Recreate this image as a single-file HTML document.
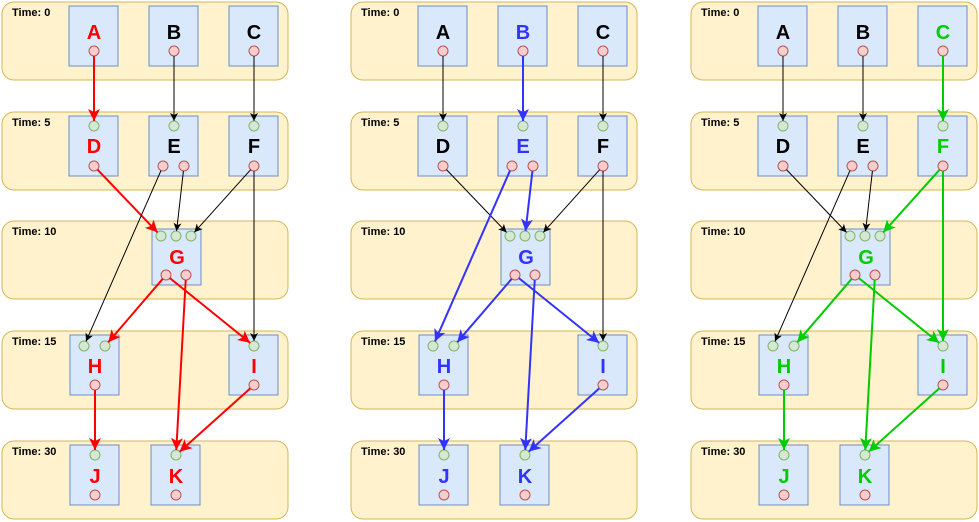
<!DOCTYPE html>
<html><head><meta charset="utf-8"><style>
html,body{margin:0;padding:0;background:#fff;width:979px;height:522px;overflow:hidden}
text{font-family:"Liberation Sans",Arial,sans-serif;font-weight:bold}
</style></head><body>
<svg id="s" width="979" height="522" viewBox="0 0 979 522" xmlns="http://www.w3.org/2000/svg">
<defs>
<marker id="m-black" markerWidth="10" markerHeight="10" refX="9" refY="5" orient="auto" markerUnits="userSpaceOnUse"><path d="M1,1 L9,5 L1,9 L3,5 z" fill="#000"/></marker>
<marker id="m-red" markerWidth="14" markerHeight="14" refX="13" refY="7" orient="auto" markerUnits="userSpaceOnUse"><path d="M1,1 L13,7 L1,13 L4,7 z" fill="#ff0000"/></marker>
<marker id="m-blue" markerWidth="14" markerHeight="14" refX="13" refY="7" orient="auto" markerUnits="userSpaceOnUse"><path d="M1,1 L13,7 L1,13 L4,7 z" fill="#3333ff"/></marker>
<marker id="m-green" markerWidth="14" markerHeight="14" refX="13" refY="7" orient="auto" markerUnits="userSpaceOnUse"><path d="M1,1 L13,7 L1,13 L4,7 z" fill="#00cc00"/></marker>
</defs>
</svg>
<script>
const NS="http://www.w3.org/2000/svg";
const svg=document.getElementById('s');
const bands=[["Time: 0",2],["Time: 5",112],["Time: 10",221],["Time: 15",331],["Time: 30",441]];
// nodes: name, x, y, w, h, inputs [x,y], outputs [x,y], label y
const nodes={
A:{x:69,y:6,h:60,ins:[],outs:[[94,51]],ly:32},
B:{x:149,y:6,h:60,ins:[],outs:[[174,51]],ly:32},
C:{x:229,y:6,h:60,ins:[],outs:[[254,51]],ly:32},
D:{x:69,y:116,h:60,ins:[[94,126]],outs:[[94,166]],ly:146},
E:{x:149,y:116,h:60,ins:[[174,126]],outs:[[163,166],[184,166]],ly:146},
F:{x:229,y:116,h:60,ins:[[254,126]],outs:[[254,166]],ly:146},
G:{x:152,y:229,h:56,ins:[[161,236],[176,236],[191,236]],outs:[[166,275],[186,275]],ly:257},
H:{x:70,y:335,h:60,ins:[[84,346],[105,346]],outs:[[95,385]],ly:366},
I:{x:229,y:335,h:60,ins:[[254,346]],outs:[[254,385]],ly:366},
J:{x:70,y:445,h:60,ins:[[95,455]],outs:[[95,495]],ly:476},
K:{x:151,y:445,h:60,ins:[[176,455]],outs:[[176,495]],ly:476}
};
// edges: from, outIdx, to, inIdx
const edges=[["A",0,"D",0],["B",0,"E",0],["C",0,"F",0],["D",0,"G",0],["E",0,"H",0],["E",1,"G",1],["F",0,"G",2],["F",0,"I",0],["G",0,"H",1],["G",0,"I",0],["G",1,"K",0],["H",0,"J",0],["I",0,"K",0]];
const panels=[
{off:0,color:"#ff0000",mk:"m-red",nodes:"ADGHIJK",edges:["A-D","D-G","G-H","G-I","G-K","H-J","I-K"]},
{off:349,color:"#3333ff",mk:"m-blue",nodes:"BEGHIJK",edges:["B-E","E-G","E-H","G-H","G-I","G-K","H-J","I-K"]},
{off:689,color:"#00cc00",mk:"m-green",nodes:"CFGHIJK",edges:["C-F","F-G","F-I","G-H","G-I","G-K","H-J","I-K"]}
];
function el(t,a,p){const e=document.createElementNS(NS,t);for(const k in a)e.setAttribute(k,a[k]);(p||svg).appendChild(e);return e;}
panels.forEach((P,pi)=>{
  const g=el('g',{transform:`translate(${P.off},0)`});
  
  
  bands.forEach(b=>{
    const r=el('rect',{x:2,y:b[1],width:286,height:78,rx:12,fill:"#fff2cc",stroke:"#d6b656","stroke-width":1},g);
    
    
    const t=el('text',{x:12,y:b[1]+14,"font-size":"11",fill:"#000"},g);t.textContent=b[0];
    
    
  });
  for(const n in nodes){
    const N=nodes[n];
    const r=el('rect',{x:N.x,y:N.y,width:49,height:N.h,fill:"#dae8fc",stroke:"#6c8ebf","stroke-width":1},g);
    
    
    const t=el('text',{x:N.x+25,y:N.ly+7,"font-size":"20","text-anchor":"middle",fill:P.nodes.includes(n)?P.color:"#000"},g);t.textContent=n;
    
    
    N.ins.forEach(c=>{const ci=el('circle',{cx:c[0],cy:c[1],r:5,fill:"#d5e8d4",stroke:"#82b366"},g);
      
      });
    N.outs.forEach(c=>{const ci=el('circle',{cx:c[0],cy:c[1],r:5,fill:"#f8cecc",stroke:"#b85450"},g);
      
      });
  }
  edges.forEach(E=>{
    const a=nodes[E[0]].outs[E[1]],b=nodes[E[2]].ins[E[3]];
    const hl=P.edges.includes(E[0]+"-"+E[2]);
    const dx=b[0]-a[0],dy=b[1]-a[1],L=Math.hypot(dx,dy),ux=dx/L,uy=dy/L;
    const l=el('line',{x1:a[0]+ux*5,y1:a[1]+uy*5,x2:b[0]-ux*5,y2:b[1]-uy*5,stroke:hl?P.color:"#000","stroke-width":hl?2:1,"marker-end":`url(#${hl?P.mk:"m-black"})`},g);
    
    
  });
});
</script>
</body></html>
